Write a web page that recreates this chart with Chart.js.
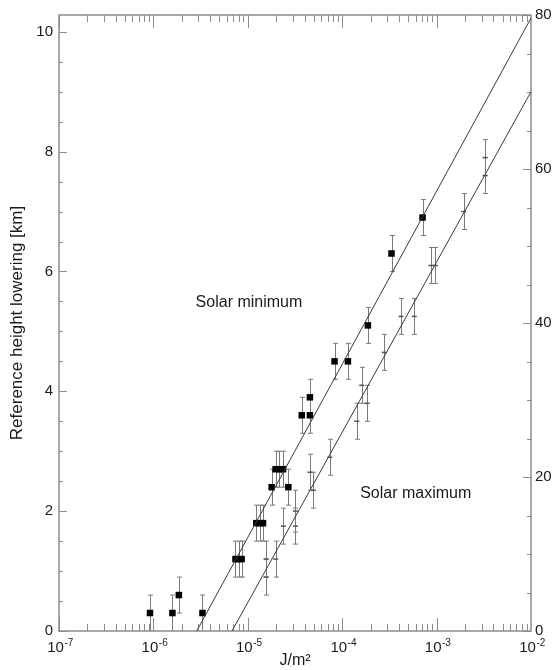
<!DOCTYPE html>
<html>
<head>
<meta charset="utf-8">
<script src="https://cdn.jsdelivr.net/npm/chart.js@4/dist/chart.umd.min.js"></script>
<style>
  html, body { margin: 0; padding: 0; background: #fff; }
  #wrap { width: 554px; height: 670px; }
</style>
</head>
<body>
<div id="wrap"><canvas id="chart" width="554" height="670"></canvas></div>
<script>
// solar minimum: black squares with error bars
const minFlux = [9.2e-7, 1.59e-6, 1.86e-6, 3.31e-6, 7.4e-6, 8.0e-6, 8.6e-6, 1.23e-5, 1.34e-5, 1.45e-5,
  1.79e-5, 1.97e-5, 2.15e-5, 2.36e-5, 2.69e-5, 3.73e-5, 4.55e-5, 4.55e-5, 8.3e-5, 1.15e-4,
  1.87e-4, 3.33e-4, 7.1e-4];
const minLowering = [0.3, 0.3, 0.6, 0.3, 1.2, 1.2, 1.2, 1.8, 1.8, 1.8,
  2.4, 2.7, 2.7, 2.7, 2.4, 3.6, 3.6, 3.9, 4.5, 4.5,
  5.1, 6.3, 6.9];
const minError = [0.3, 0.3, 0.3, 0.3, 0.3, 0.3, 0.3, 0.3, 0.3, 0.3,
  0.3, 0.3, 0.3, 0.3, 0.3, 0.3, 0.3, 0.3, 0.3, 0.3,
  0.3, 0.3, 0.3];

// solar maximum: error bars only
const maxFlux = [1.56e-5, 1.56e-5, 1.97e-5, 2.38e-5, 3.2e-5, 3.2e-5, 4.56e-5, 4.94e-5, 7.4e-5, 1.43e-4,
  1.61e-4, 1.84e-4, 2.79e-4, 4.2e-4, 5.8e-4, 8.7e-4, 9.7e-4, 1.94e-3, 3.26e-3, 3.26e-3];
const maxLowering = [1.2, 0.9, 1.2, 1.75, 2.0, 1.75, 2.65, 2.35, 2.9, 3.5,
  4.1, 3.8, 4.65, 5.25, 5.25, 6.1, 6.1, 7.0, 7.9, 7.6];
const maxError = [0.3, 0.3, 0.3, 0.3, 0.35, 0.3, 0.3, 0.3, 0.3, 0.3,
  0.3, 0.3, 0.3, 0.3, 0.3, 0.3, 0.3, 0.3, 0.3, 0.3];

// fitted lines (end points)
const minFitFlux = [2.88e-6, 1e-2];
const minFitLowering = [0, 10.23];
const maxFitFlux = [6.8e-6, 1e-2];
const maxFitLowering = [0, 9.0];

const fluxDecades = [1e-7, 1e-6, 1e-5, 1e-4, 1e-3, 1e-2];
const decadeExponents = ['-7', '-6', '-5', '-4', '-3', '-2'];
const leftTicks = [0, 2, 4, 6, 8, 10];
const rightTicks = [0, 20, 40, 60, 80];

const annotations = [
  { text: 'Solar minimum', flux: 2.8e-6, lowering: 5.48 },
  { text: 'Solar maximum', flux: 1.55e-4, lowering: 2.3 }
];

const AXIS_COLOR = '#8c8c8c';
const BAR_COLOR = '#7a7a7a';
const TEXT_COLOR = '#1a1a1a';
const FONT = '"Liberation Sans", Arial, Helvetica, sans-serif';

const toPoints = (xs, ys) => xs.map((x, i) => ({ x, y: ys[i] }));

// frame, inward ticks, error bars, decade labels
const framePlugin = {
  id: 'frame',
  beforeDatasetsDraw(chart) {
    const { ctx, chartArea: a, scales } = chart;
    const x = scales.x, y = scales.y, y2 = scales.y2;
    ctx.save();

    // error bars
    ctx.strokeStyle = BAR_COLOR;
    ctx.lineWidth = 1;
    const bars = (xs, ys, es) => {
      xs.forEach((fx, i) => {
        const px = Math.round(x.getPixelForValue(fx)) + 0.5;
        const top = y.getPixelForValue(ys[i] + es[i]);
        const bot = y.getPixelForValue(Math.max(0, ys[i] - es[i]));
        ctx.beginPath();
        ctx.moveTo(px, top); ctx.lineTo(px, bot);
        ctx.moveTo(px - 2.5, top); ctx.lineTo(px + 2.5, top);
        if (ys[i] - es[i] > 0) { ctx.moveTo(px - 2.5, bot); ctx.lineTo(px + 2.5, bot); }
        ctx.stroke();
      });
    };
    bars(minFlux, minLowering, minError);
    bars(maxFlux, maxLowering, maxError);

    // frame
    ctx.strokeStyle = AXIS_COLOR;
    ctx.lineWidth = 1.5;
    ctx.strokeRect(a.left, a.top, a.right - a.left, a.bottom - a.top);

    // x ticks, bottom and top
    ctx.lineWidth = 1;
    ctx.beginPath();
    for (let d = 0; d < fluxDecades.length - 1; d++) {
      for (let m = 1; m <= 9; m++) {
        const v = fluxDecades[d] * m;
        const px = Math.round(x.getPixelForValue(v)) + 0.5;
        const len = m === 1 ? 13 : 7;
        ctx.moveTo(px, a.bottom); ctx.lineTo(px, a.bottom - len);
        ctx.moveTo(px, a.top); ctx.lineTo(px, a.top + len);
      }
    }
    // left ticks every 0.5
    for (let v = 0; v <= 10; v += 0.5) {
      const py = Math.round(y.getPixelForValue(v)) + 0.5;
      const len = v % 2 === 0 ? 8 : 4;
      ctx.moveTo(a.left, py); ctx.lineTo(a.left + len, py);
    }
    // right ticks every 5
    for (let v = 0; v <= 80; v += 5) {
      const py = Math.round(y2.getPixelForValue(v)) + 0.5;
      const len = v % 20 === 0 ? 8 : 4;
      ctx.moveTo(a.right, py); ctx.lineTo(a.right - len, py);
    }
    ctx.stroke();

    // decade labels: "10" with a raised exponent
    ctx.fillStyle = TEXT_COLOR;
    ctx.textBaseline = 'alphabetic';
    ctx.textAlign = 'left';
    x.ticks.forEach(t => {
      const i = fluxDecades.indexOf(t.value);
      if (i < 0) return;
      ctx.font = '15px ' + FONT;
      const wBase = ctx.measureText('10').width;
      ctx.font = '10px ' + FONT;
      const wExp = ctx.measureText(decadeExponents[i]).width;
      const left = x.getPixelForValue(t.value) - (wBase + wExp) / 2 + 1;
      ctx.font = '15px ' + FONT;
      ctx.fillText('10', left, a.bottom + 21);
      ctx.font = '10px ' + FONT;
      ctx.fillText(decadeExponents[i], left + wBase + 0.5, a.bottom + 15);
    });

    // annotation text
    ctx.font = '16px ' + FONT;
    ctx.textBaseline = 'middle';
    annotations.forEach(n => {
      ctx.fillText(n.text, x.getPixelForValue(n.flux), y.getPixelForValue(n.lowering));
    });
    ctx.restore();
  }
};

new Chart(document.getElementById('chart'), {
  type: 'scatter',
  data: {
    datasets: [
      {
        label: 'Solar minimum fit',
        type: 'line',
        data: toPoints(minFitFlux, minFitLowering),
        borderColor: '#3a3a3a',
        borderWidth: 1,
        pointRadius: 0,
        fill: false
      },
      {
        label: 'Solar maximum fit',
        type: 'line',
        data: toPoints(maxFitFlux, maxFitLowering),
        borderColor: '#3a3a3a',
        borderWidth: 1,
        pointRadius: 0,
        fill: false
      },
      {
        label: 'Solar maximum',
        data: toPoints(maxFlux, maxLowering),
        pointStyle: 'line',
        pointRadius: 2.5,
        borderColor: '#555',
        borderWidth: 1.5
      },
      {
        label: 'Solar minimum',
        data: toPoints(minFlux, minLowering),
        pointStyle: 'rect',
        pointRadius: 4.6,
        backgroundColor: '#000',
        borderColor: '#000',
        borderWidth: 0
      }
    ]
  },
  options: {
    responsive: false,
    animation: false,
    devicePixelRatio: 1,
    layout: { padding: { top: 10, left: 0, right: 0, bottom: 0 } },
    plugins: { legend: { display: false }, tooltip: { enabled: false } },
    scales: {
      x: {
        type: 'logarithmic',
        position: 'bottom',
        min: 1e-7,
        max: 1e-2,
        afterBuildTicks: s => { s.ticks = fluxDecades.map(v => ({ value: v })); },
        afterFit: s => { s.height = 39; },
        ticks: { display: false, autoSkip: false, maxRotation: 0 },
        grid: { display: false, drawTicks: false },
        border: { display: false },
        title: {
          display: true,
          text: 'J/m\u00B2',
          color: TEXT_COLOR,
          font: { family: FONT, size: 16 },
          padding: { top: 0, bottom: 0 }
        }
      },
      y: {
        type: 'linear',
        position: 'left',
        min: 0,
        max: 10.28,
        afterBuildTicks: s => { s.ticks = leftTicks.map(v => ({ value: v })); },
        afterFit: s => { s.width = 59; },
        ticks: {
          padding: 6,
          color: TEXT_COLOR,
          font: { family: FONT, size: 15 }
        },
        grid: { display: false, drawTicks: false },
        border: { display: false },
        title: {
          display: true,
          text: 'Reference height lowering [km]',
          color: TEXT_COLOR,
          font: { family: FONT, size: 17 },
          padding: { top: 7, bottom: 0 }
        }
      },
      y2: {
        type: 'linear',
        position: 'right',
        min: 0,
        max: 80,
        afterBuildTicks: s => { s.ticks = rightTicks.map(v => ({ value: v })); },
        afterFit: s => { s.width = 23; },
        ticks: {
          padding: 4,
          color: TEXT_COLOR,
          font: { family: FONT, size: 15 }
        },
        grid: { display: false, drawTicks: false },
        border: { display: false }
      }
    }
  },
  plugins: [framePlugin]
});
</script>
</body>
</html>
